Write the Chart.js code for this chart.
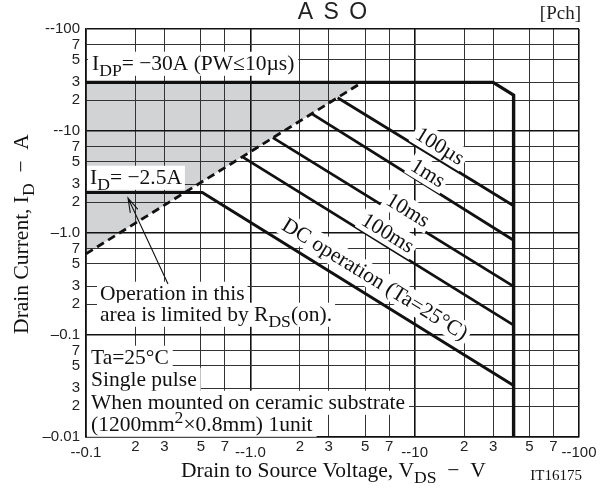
<!DOCTYPE html>
<html>
<head>
<meta charset="utf-8">
<script src="https://cdn.jsdelivr.net/npm/chart.js@4.4.0/dist/chart.umd.min.js"></script>
<style>
  html, body { margin: 0; padding: 0; background: #fff; }
</style>
</head>
<body>
<canvas id="asoChart" width="603" height="488"></canvas>
<script>
// Axis ticks (magnitudes, log scales)
const xTicks = [0.1, 0.2, 0.3, 0.5, 0.7, 1, 2, 3, 5, 7, 10, 20, 30, 50, 70, 100];
const xTickLabels = ['--0.1', '2', '3', '5', '7', '--1.0', '2', '3', '5', '7', '--10', '2', '3', '5', '7', '--100'];
const yTicks = [0.01, 0.02, 0.03, 0.05, 0.07, 0.1, 0.2, 0.3, 0.5, 0.7, 1, 2, 3, 5, 7, 10, 20, 30, 50, 70, 100];
const yTickLabels = ['\u20130.01', '2', '3', '5', '7', '\u20130.1', '2', '3', '5', '7', '\u20131.0', '2', '3', '5', '7', '--10', '2', '3', '5', '7', '--100'];

// Safe operating area limits: VDS (V) vs ID (A)
const outerV = [0.1, 30, 40, 40];
const outerI = [30, 30, 22.5, 0.01];
const rdsV = [0.1, 4.8];
const rdsI = [0.625, 30];
const us100V = [3.4, 40];
const us100I = [21.2, 1.85];
const ms1V = [2.36, 40];
const ms1I = [14.8, 0.85];
const ms10V = [1.37, 40];
const ms10I = [8.6, 0.3];
const ms100V = [0.89, 40];
const ms100I = [5.6, 0.125];
const dcV = [0.1, 0.51, 40];
const dcI = [2.5, 2.5, 0.032];

const pts = (vs, is) => vs.map((v, i) => ({ x: v, y: is[i] }));
const isDecade = v => Math.abs(Math.log10(v) - Math.round(Math.log10(v))) < 1e-6;

const SERIF = '"Liberation Serif", "Times New Roman", serif';
const SANS = '"Liberation Sans", Arial, sans-serif';
const TXT = 21.5;

// text with sub/superscript pieces
function drawRich(ctx, parts, x, y, size) {
  let cx = x;
  parts.forEach(p => {
    const small = p.sub || p.sup;
    ctx.font = (small ? size * 0.82 : size) + 'px ' + SERIF;
    const dy = p.sub ? size * 0.3 : p.sup ? -size * 0.35 : 0;
    ctx.fillText(p.t, cx, y + dy);
    cx += ctx.measureText(p.t).width;
  });
  return cx - x;
}

function richWidth(ctx, parts, size) {
  let w = 0;
  parts.forEach(p => {
    ctx.font = ((p.sub || p.sup) ? size * 0.82 : size) + 'px ' + SERIF;
    w += ctx.measureText(p.t).width;
  });
  return w;
}

// white-backed label
function boxedText(ctx, parts, x, y, size, pad) {
  const w = richWidth(ctx, parts, size);
  ctx.fillStyle = '#fff';
  ctx.fillRect(x - pad, y - size * 0.85, w + pad * 2, size * 1.12);
  ctx.fillStyle = '#111';
  drawRich(ctx, parts, x, y, size);
}

function rotatedLabel(ctx, text, cx, cy, angle, size) {
  ctx.save();
  ctx.translate(cx, cy);
  ctx.rotate(angle);
  ctx.font = size + 'px ' + SERIF;
  const w = ctx.measureText(text).width;
  ctx.fillStyle = '#fff';
  ctx.fillRect(-w / 2 - 3, -size * 0.55, w + 6, size * 1.1);
  ctx.fillStyle = '#111';
  ctx.textAlign = 'center';
  ctx.textBaseline = 'middle';
  ctx.fillText(text, 0, 1);
  ctx.restore();
}

const labelPlugin = {
  id: 'asoLabels',
  afterDraw(chart) {
    const ctx = chart.ctx;
    const xs = chart.scales.x;
    const ys = chart.scales.y;
    ctx.save();
    ctx.textBaseline = 'alphabetic';

    // title
    ctx.fillStyle = '#222';
    ctx.font = '23px ' + SANS;
    ctx.textAlign = 'center';
    ctx.letterSpacing = '2px';
    ctx.fillText('A S O', (chart.chartArea.left + chart.chartArea.right) / 2 + 1, 19);
    ctx.letterSpacing = '0px';
    ctx.font = '19px ' + SERIF;
    ctx.textAlign = 'right';
    ctx.fillText('[Pch]', 581, 19);

    // x tick labels, decades set a little lower
    ctx.font = '15px ' + SANS;
    ctx.textAlign = 'center';
    ctx.textBaseline = 'middle';
    xTicks.forEach((v, i) => {
      const px = xs.getPixelForValue(v);
      ctx.fillText(xTickLabels[i], px, isDecade(v) ? xs.top + 16 : xs.top + 10);
    });
    ctx.textBaseline = 'alphabetic';

    // axis titles
    ctx.fillStyle = '#111';
    ctx.font = '15px ' + SERIF;
    ctx.textAlign = 'right';
    ctx.fillText('IT16175', 582, 480);
    ctx.textAlign = 'left';
    const xTitle = [{ t: 'Drain to Source Voltage, V' }, { t: 'DS', sub: true }, { t: '  \u2212  V' }];
    drawRich(ctx, xTitle, 181, 477, TXT);

    const yTitle = [{ t: 'Drain Current, I' }, { t: 'D', sub: true }, { t: '  \u2212  A' }];
    ctx.save();
    ctx.translate(28, 234);
    ctx.rotate(-Math.PI / 2);
    const yw = richWidth(ctx, yTitle, TXT);
    drawRich(ctx, yTitle, -yw / 2, 0, TXT);
    ctx.restore();

    // boxed notes
    boxedText(ctx, [{ t: 'I' }, { t: 'DP', sub: true }, { t: '= \u221230A (PW\u226410\u00b5s)' }], 92, 70, TXT, 4);
    boxedText(ctx, [{ t: 'I' }, { t: 'D', sub: true }, { t: '= \u22122.5A' }], 90, 184, TXT, 3);
    boxedText(ctx, [{ t: 'Operation in this' }], 100, 300, TXT, 3);
    boxedText(ctx, [{ t: 'area is limited by R' }, { t: 'DS', sub: true }, { t: '(on).' }], 100, 321, TXT, 3);
    boxedText(ctx, [{ t: 'Ta=25\u00b0C' }], 91, 364, TXT, 4);
    boxedText(ctx, [{ t: 'Single pulse' }], 91, 386, TXT, 4);
    boxedText(ctx, [{ t: 'When mounted on ceramic substrate' }], 91, 409, TXT, 4);
    boxedText(ctx, [{ t: '(1200mm' }, { t: '2', sup: true }, { t: '\u00d70.8mm) 1unit' }], 91, 431, TXT, 4);

    // arrow pointing at the RDS(on) region
    ctx.strokeStyle = '#111';
    ctx.lineWidth = 1.1;
    const ax0 = 168, ay0 = 284, ax1 = 128, ay1 = 198;
    ctx.beginPath();
    ctx.moveTo(ax0, ay0);
    ctx.lineTo(ax1, ay1);
    const ang = Math.atan2(ay1 - ay0, ax1 - ax0);
    const head = 15;
    ctx.moveTo(ax1 - head * Math.cos(ang - 0.28), ay1 - head * Math.sin(ang - 0.28));
    ctx.lineTo(ax1, ay1);
    ctx.lineTo(ax1 - head * Math.cos(ang + 0.28), ay1 - head * Math.sin(ang + 0.28));
    ctx.stroke();

    // pulse-width labels along the sloped lines
    const slope = Math.atan2(
      ys.getPixelForValue(us100I[1]) - ys.getPixelForValue(us100I[0]),
      xs.getPixelForValue(us100V[1]) - xs.getPixelForValue(us100V[0]));
    rotatedLabel(ctx, '100\u00b5s', 440, 146, slope, TXT);
    rotatedLabel(ctx, '1ms', 428, 173, slope, TXT);
    rotatedLabel(ctx, '10ms', 408, 210, slope, TXT);
    rotatedLabel(ctx, '100ms', 388, 233, slope, TXT);
    rotatedLabel(ctx, 'DC operation (Ta=25\u00b0C)', 375, 279, slope, TXT);

    ctx.restore();
  }
};

const lineSet = (data, width, extra) => Object.assign({
  data: data,
  borderColor: '#111',
  borderWidth: width,
  pointRadius: 0,
  fill: false,
  tension: 0
}, extra || {});

new Chart(document.getElementById('asoChart'), {
  type: 'line',
  data: {
    datasets: [
      lineSet(pts(outerV, outerI), 3.4),
      lineSet(pts(dcV, dcI), 3),
      lineSet(pts(us100V, us100I), 2.8),
      lineSet(pts(ms1V, ms1I), 2.8),
      lineSet(pts(ms10V, ms10I), 2.8),
      lineSet(pts(ms100V, ms100I), 2.8),
      lineSet(pts(rdsV, rdsI), 2.8, { borderDash: [8, 5] }),
      // shaded region above the RDS(on) limit
      lineSet(pts(rdsV, rdsI), 0, {
        borderColor: 'rgba(0,0,0,0)',
        backgroundColor: '#d2d3d5',
        fill: { value: 30 },
        order: 10
      })
    ]
  },
  options: {
    responsive: false,
    animation: false,
    events: [],
    layout: { padding: { top: 29, right: 24, left: 0, bottom: 0 } },
    plugins: {
      legend: { display: false },
      tooltip: { enabled: false },
      filler: { drawTime: 'beforeDraw' }
    },
    scales: {
      x: {
        type: 'logarithmic',
        min: 0.1,
        max: 100,
        afterBuildTicks: s => { s.ticks = xTicks.map(v => ({ value: v })); },
        afterFit: s => { s.height = 51; },
        ticks: { display: false, autoSkip: false },
        grid: {
          drawTicks: false,
          color: c => (c.tick && isDecade(c.tick.value)) ? '#111' : '#333',
          lineWidth: c => (c.tick && isDecade(c.tick.value)) ? 1.6 : 1
        },
        border: { display: true, color: '#111', width: 1.6 }
      },
      y: {
        type: 'logarithmic',
        min: 0.01,
        max: 100,
        afterBuildTicks: s => { s.ticks = yTicks.map(v => ({ value: v })); },
        afterFit: s => { s.width = 86; },
        ticks: {
          autoSkip: false,
          padding: 6,
          color: '#222',
          font: { family: 'Liberation Sans', size: 15 },
          callback: v => {
            const i = yTicks.findIndex(t => Math.abs(t - v) < t * 1e-6);
            return i >= 0 ? yTickLabels[i] : '';
          }
        },
        grid: {
          drawTicks: false,
          color: c => (c.tick && isDecade(c.tick.value)) ? '#111' : '#333',
          lineWidth: c => (c.tick && isDecade(c.tick.value)) ? 1.6 : 1
        },
        border: { display: true, color: '#111', width: 1.6 }
      }
    }
  },
  plugins: [labelPlugin]
});
</script>
</body>
</html>
